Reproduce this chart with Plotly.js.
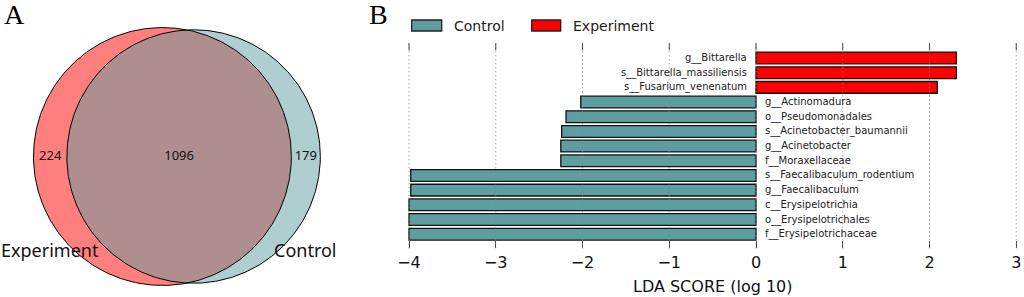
<!DOCTYPE html>
<html><head><meta charset="utf-8">
<script src="https://cdn.plot.ly/plotly-3.0.1.min.js"></script>
<style>html,body{margin:0;padding:0;background:#fff;}#chart{width:1024px;height:297px;}</style>
</head><body><div id="chart"></div>
<script>
// ---- Panel A: Venn counts ----
const vennSetNames = ["Experiment", "Control"];
const vennOnlyExperiment = 224;
const vennShared = 1096;
const vennOnlyControl = 179;

// ---- Panel B: LEfSe LDA scores (top to bottom) ----
const features = ["g__Bittarella","s__Bittarella_massiliensis","s__Fusarium_venenatum",
  "g__Actinomadura","o__Pseudomonadales","s__Acinetobacter_baumannii","g__Acinetobacter",
  "f__Moraxellaceae","s__Faecalibaculum_rodentium","g__Faecalibaculum","c__Erysipelotrichia",
  "o__Erysipelotrichales","f__Erysipelotrichaceae"];
const ldaScores = [2.31, 2.31, 2.09, -2.02, -2.19, -2.24, -2.25, -2.25, -3.98, -3.98, -4.00, -4.00, -4.00];
const featureGroups = ["Experiment","Experiment","Experiment","Control","Control","Control","Control",
  "Control","Control","Control","Control","Control","Control"];
const groupNames = ["Control", "Experiment"];
const xTickVals = [-4, -3, -2, -1, 0, 1, 2, 3];
const xTitle = "LDA SCORE (log 10)";
const panelLabels = ["A", "B"];

// ---- styles ----
const groupColors = {Control: "#5F9EA0", Experiment: "#FF0000"};
const vennFill = ["rgba(255,0,0,0.5)", "rgba(95,158,160,0.5)"];
const W = 1024, H = 297;

// ---- Venn geometry from the counts (area proportional) ----
const area1 = vennOnlyExperiment + vennShared, area2 = vennOnlyControl + vennShared;
const r1 = Math.sqrt(area1 / Math.PI), r2 = Math.sqrt(area2 / Math.PI);
function lensArea(d) {
  const a = r1*r1*Math.acos((d*d + r1*r1 - r2*r2) / (2*d*r1));
  const b = r2*r2*Math.acos((d*d + r2*r2 - r1*r1) / (2*d*r2));
  const c = 0.5*Math.sqrt((-d+r1+r2)*(d+r1-r2)*(d-r1+r2)*(d+r1+r2));
  return a + b - c;
}
let lo = Math.abs(r1 - r2) + 1e-9, hi = r1 + r2 - 1e-9;
for (let i = 0; i < 100; i++) { const m = (lo + hi) / 2; if (lensArea(m) > vennShared) lo = m; else hi = m; }
const dist = (lo + hi) / 2;
const c1 = (r1 - r2 - dist) / 2, c2 = c1 + dist;
function circlePts(cx, r) {
  const xs = [], ys = [];
  for (let i = 0; i <= 360; i++) { const t = i * Math.PI / 180; xs.push(cx + r*Math.cos(t)); ys.push(r*Math.sin(t)); }
  return {x: xs, y: ys};
}
const vennScale = 6.29, vennCx = 176.9, vennCy = 156.5, vennDomainX = [0, 0.35];
const vennW = (vennDomainX[1] - vennDomainX[0]) * W;

const traces = [];
const circ = [circlePts(c1, r1), circlePts(c2, r2)];
circ.forEach((p, i) => traces.push({type: "scatter", mode: "lines", x: p.x, y: p.y, xaxis: "x2", yaxis: "y2",
  fill: "toself", fillcolor: vennFill[i], line: {width: 0}, hoverinfo: "skip", showlegend: false}));
circ.forEach((p) => traces.push({type: "scatter", mode: "lines", x: p.x, y: p.y, xaxis: "x2", yaxis: "y2",
  line: {color: "#000", width: 1}, hoverinfo: "skip", showlegend: false}));
const regionX = [((c1 - r1) + (c2 - r2)) / 2, ((c2 - r2) + (c1 + r1)) / 2, ((c1 + r1) + (c2 + r2)) / 2];
traces.push({type: "scatter", mode: "text", x: regionX, y: [0, 0, 0], xaxis: "x2", yaxis: "y2",
  text: [vennOnlyExperiment, vennShared, vennOnlyControl].map(String),
  textfont: {family: "Noto Sans", size: 13, color: "#111"}, textposition: "middle center",
  hoverinfo: "skip", showlegend: false});

// ---- Bars ----
groupNames.forEach(g => {
  const idx = features.map((f, i) => i).filter(i => featureGroups[i] === g);
  traces.push({type: "bar", orientation: "h", name: g,
    y: idx.map(i => features[i]), x: idx.map(i => ldaScores[i]), width: 0.8,
    marker: {color: groupColors[g], line: {color: "#111", width: 1.3}}, showlegend: false, hoverinfo: "x+y"});
});

const barDomX = [407.5 / W, 1018 / W];
const barDomY = [1 - 248.3 / H, 1 - 43.3 / H];
const tickLen = 7;
const shapes = [];
xTickVals.forEach(t => {
  shapes.push({type: "line", xref: "x", yref: "paper", x0: t, x1: t,
    y0: barDomY[0], y1: barDomY[1], layer: "above", line: {color: "#808080", width: 1, dash: "1px,3px"}});
  // top (mirrored) tick marks
  shapes.push({type: "line", xref: "x", yref: "paper", x0: t, x1: t,
    y0: barDomY[1] - tickLen / H, y1: barDomY[1], layer: "above", line: {color: "#444", width: 1}});
});

const annotations = [];
features.forEach((f, i) => {
  const pos = ldaScores[i] > 0;
  annotations.push({xref: "x", yref: "y", x: 0, y: f, text: f, showarrow: false,
    xanchor: pos ? "right" : "left", xshift: pos ? -7 : 7, yanchor: "middle",
    font: {family: "DejaVu Sans", size: 10, color: "#222"}});
});
// manual legend
const legendBoxX = [[411.7, 441.7], [531.7, 560.7]];
groupNames.forEach((g, i) => {
  shapes.push({type: "rect", xref: "paper", yref: "paper", x0: legendBoxX[i][0] / W, x1: legendBoxX[i][1] / W,
    y0: 1 - 31 / H, y1: 1 - 20 / H, fillcolor: groupColors[g], line: {color: "#222", width: 1.3}});
  annotations.push({xref: "paper", yref: "paper", x: (legendBoxX[i][1] + 10) / W, y: 1 - 25.7 / H,
    xanchor: "left", yanchor: "middle", text: g, showarrow: false,
    font: {family: "DejaVu Sans", size: 14, color: "#222"}});
});
// venn set labels
[0, 2].forEach((ri, k) => annotations.push({xref: "x2", yref: "y2", x: regionX[ri], y: (vennCy - 250) / vennScale,
  text: vennSetNames[k], showarrow: false, xanchor: "center", yanchor: "middle",
  font: {family: "Noto Sans", size: 18, color: "#111"}}));
// panel labels
annotations.push({xref: "paper", yref: "paper", x: 2 / W, y: 1 - 14.5 / H, xanchor: "left", yanchor: "middle",
  text: panelLabels[0], showarrow: false, font: {family: "Liberation Serif", size: 28, color: "#000"}});
annotations.push({xref: "paper", yref: "paper", x: 367 / W, y: 1 - 14.5 / H, xanchor: "left", yanchor: "middle",
  text: panelLabels[1], showarrow: false, font: {family: "Liberation Serif", size: 28, color: "#000"}});

const layout = {
  width: W, height: H, margin: {l: 0, r: 0, t: 0, b: 0},
  paper_bgcolor: "#fff", plot_bgcolor: "rgba(0,0,0,0)", showlegend: false, barmode: "overlay",
  xaxis: {domain: barDomX, range: [-4.0 - 1.5/86.75, 3.0 + 1.75/86.75], tickvals: xTickVals, ticktext: xTickVals.map(v => v < 0 ? "\u2212" + Math.abs(v) : String(v)),
    ticks: "inside", ticklen: tickLen, tickwidth: 1, tickcolor: "#444", showline: false,
    showgrid: false, zeroline: false, tickfont: {family: "DejaVu Sans", size: 16, color: "#111"}, ticklabelstandoff: 3,
    title: {text: xTitle, font: {family: "DejaVu Sans", size: 16, color: "#111"}, standoff: 9}, anchor: "y", fixedrange: true},
  yaxis: {domain: barDomY, type: "category", categoryorder: "array", categoryarray: features.slice().reverse(),
    range: [-0.96, 13.0], showticklabels: false, ticks: "", showgrid: false, zeroline: false, showline: false, anchor: "x", fixedrange: true},
  xaxis2: {domain: vennDomainX, anchor: "y2", range: [-vennCx / vennScale, (vennW - vennCx) / vennScale], visible: false, fixedrange: true},
  yaxis2: {domain: [0, 1], anchor: "x2", range: [-(H - vennCy) / vennScale, vennCy / vennScale], visible: false, fixedrange: true},
  shapes: shapes, annotations: annotations
};
Plotly.newPlot("chart", traces, layout, {displayModeBar: false, staticPlot: true});
</script></body></html>
